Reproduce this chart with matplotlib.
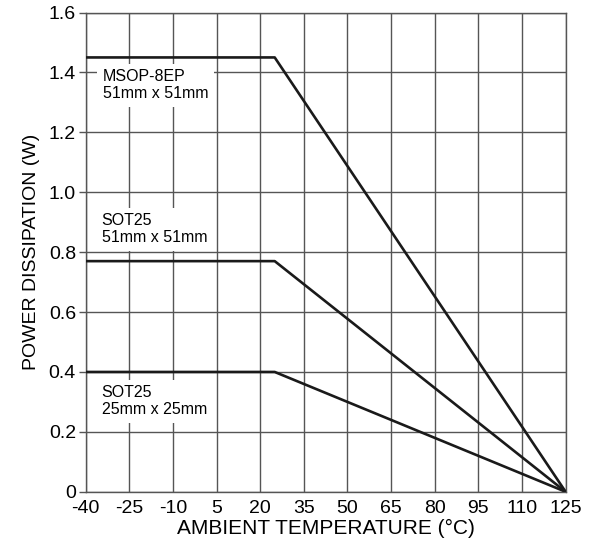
import numpy as np
import matplotlib.pyplot as plt

plt.rcParams['font.family'] = ['Liberation Sans', 'DejaVu Sans']
plt.rcParams['axes.unicode_minus'] = False

# derating curves: flat up to the knee, then linear down to 0 W at 125 °C
temps = [-40, 25, 125]
msop_51 = [1.45, 1.45, 0.0]
sot25_51 = [0.77, 0.77, 0.0]
sot25_25 = [0.40, 0.40, 0.0]

x_ticks = [-40, -25, -10, 5, 20, 35, 50, 65, 80, 95, 110, 125]
y_ticks = [0, 0.2, 0.4, 0.6, 0.8, 1.0, 1.2, 1.4, 1.6]
y_labels = ['0', '0.2', '0.4', '0.6', '0.8', '1.0', '1.2', '1.4', '1.6']

labels = ['MSOP-8EP\n51mm x 51mm', 'SOT25\n51mm x 51mm', 'SOT25\n25mm x 25mm']
label_pos = [(-34, 1.41), (-34.5, 0.93), (-34.5, 0.356)]

fig = plt.figure(figsize=(6.03, 5.44), dpi=100)
ax = fig.add_axes([0.142, 0.096, 0.796, 0.881])

for s in [msop_51, sot25_51, sot25_25]:
    ax.plot(temps, s, color='#1a1a1a', lw=1.9, zorder=3, solid_capstyle='butt')

for txt, (x, y) in zip(labels, label_pos):
    ax.text(x, y, txt, ha='left', va='top', fontsize=11.5, linespacing=1.15,
            zorder=2, bbox=dict(facecolor='white', edgecolor='none', pad=4))

ax.set_xlim(-40, 125)
ax.set_ylim(0, 1.6)
ax.set_xticks(x_ticks)
ax.set_yticks(y_ticks)
ax.set_yticklabels(y_labels)
ax.tick_params(axis='x', length=0, labelsize=14, pad=6)
ax.tick_params(axis='y', length=5, width=1.0, color='#555555', labelsize=14, pad=2)
ax.grid(True, color='#555555', lw=1.0, zorder=1)
ax.set_axisbelow(True)
for sp in ax.spines.values():
    sp.set_color('#555555')
    sp.set_linewidth(1.0)

ax.set_xlabel('AMBIENT TEMPERATURE (°C)', fontsize=15, labelpad=1)
ax.set_ylabel('POWER DISSIPATION (W)', fontsize=14, labelpad=6)

fig.savefig('out.png', dpi=100)
